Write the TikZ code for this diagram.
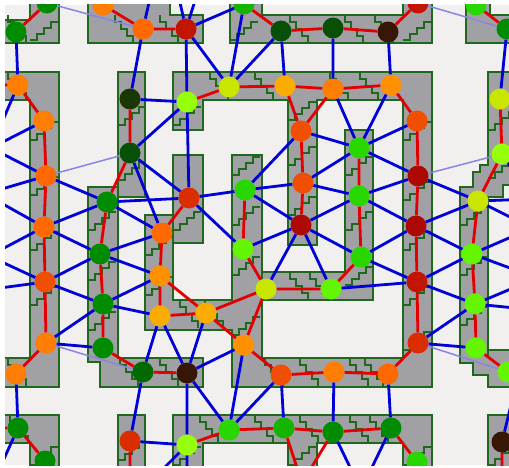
\documentclass[tikz,border=0pt]{standalone}
\usetikzlibrary{calc}

\definecolor{bgcol}{RGB}{241,240,239}
\definecolor{blkgray}{RGB}{161,160,165}
\definecolor{blkgreen}{RGB}{30,105,30}
\definecolor{redcol}{RGB}{228,0,0}
\definecolor{bluecol}{RGB}{0,0,215}
\definecolor{lightcol}{RGB}{135,135,225}
% vertex colours
\definecolor{vbrown}{RGB}{55,22,6}
\definecolor{vdred}{RGB}{172,10,0}
\definecolor{vred}{RGB}{195,20,0}
\definecolor{vredor}{RGB}{218,45,0}
\definecolor{vorred}{RGB}{240,78,0}
\definecolor{vora}{RGB}{255,105,0}
\definecolor{vorb}{RGB}{255,125,0}
\definecolor{vorc}{RGB}{255,145,0}
\definecolor{vgold}{RGB}{250,172,0}
\definecolor{vygreen}{RGB}{200,230,0}
\definecolor{vlimea}{RGB}{150,255,10}
\definecolor{vlimeb}{RGB}{100,245,0}
\definecolor{vgra}{RGB}{40,215,0}
\definecolor{vgrb}{RGB}{20,180,0}
\definecolor{vgrc}{RGB}{0,140,0}
\definecolor{vgrd}{RGB}{0,105,0}
\definecolor{vgre}{RGB}{8,80,8}
\definecolor{vgrf}{RGB}{25,55,0}

% grey strips, as rectangles
\newcommand{\slablist}{%
  \slab(-5,20)(59,43) \slab(30,-5)(59,43)
  \slab(88,-5)(170,43) \slab(88,15)(203,43)
  \slab(230,-5)(262,43) \slab(230,15)(432,43) \slab(403,-5)(432,43)
  \slab(466,-5)(490,43) \slab(466,15)(515,43)
  \slab(-5,72)(59,100) \slab(30,72)(59,387) \slab(-5,358)(59,387)
  \slab(118,72)(145,197) \slab(88,187)(118,362) \slab(100,187)(118,387) \slab(100,358)(203,387)
  \slab(173,72)(432,100) \slab(173,72)(203,130)
  \slab(288,72)(317,245) \slab(403,72)(432,387)
  \slab(232,358)(432,387) \slab(232,155)(262,387)
  \slab(173,155)(203,243)
  \slab(145,215)(173,330) \slab(145,300)(262,330)
  \slab(345,130)(373,300) \slab(262,272)(373,300)
  \slab(488,72)(515,185) \slab(480,165)(515,185)
  \slab(460,187)(488,363) \slab(473,172)(503,197) \slab(473,355)(490,375) \slab(488,350)(515,387)
  \slab(-5,415)(59,443) \slab(30,415)(59,475)
  \slab(118,415)(145,475)
  \slab(173,415)(432,443) \slab(173,415)(203,475) \slab(288,415)(317,475) \slab(403,415)(432,475)
  \slab(488,415)(515,475)
}
\def\slabouter(#1,#2)(#3,#4){\filldraw[block] (#1,#2) rectangle (#3,#4);}
\def\slabinner(#1,#2)(#3,#4){\fill[blockin] (#1+1,#2+1) rectangle (#3-1,#4-1);}

\begin{document}
\begin{tikzpicture}[x=1pt, y=-1pt,
  vtx/.style={circle, inner sep=0pt, minimum size=21pt},
  block/.style={fill=blkgray, draw=blkgreen, line width=1.5pt},
  blockin/.style={fill=blkgray},
  stairln/.style={draw=blkgreen, line width=1.2pt},
  redl/.style={draw=redcol, line width=2.8pt},
  bluel/.style={draw=bluecol, line width=2.8pt},
  lightl/.style={draw=lightcol, line width=1.5pt},
  pics/stairs/.style={code={
    \draw[stairln] (0,0) -- (7,0) -- (7,-6) -- (14,-6) -- (14,-12) -- (21,-12) -- (21,-18) -- (28,-18);}},
]

\useasboundingbox (0,0) rectangle (509,468);
\fill[white] (0,0) rectangle (509,468);

\begin{scope}
\clip (5,5) rectangle (509,465);
\fill[bgcol] (5,5) rectangle (509,465);

% === STRIPS ===
\let\slab\slabouter \slablist
\let\slab\slabinner \slablist

% steps in the vertical strips
\pic at (30,40) {stairs}; \pic at (30,140) {stairs}; \pic at (30,195) {stairs}; \pic at (30,250) {stairs}; \pic at (30,305) {stairs};
\pic at (118,125) {stairs}; \pic at (118,180) {stairs};
\pic at (88,230) {stairs}; \pic at (88,280) {stairs}; \pic at (88,330) {stairs};
\pic at (145,255) {stairs}; \pic at (145,295) {stairs};
\pic at (173,125) {stairs}; \pic at (173,230) {stairs};
\pic at (230,40) {stairs}; \pic at (232,175) {stairs}; \pic at (232,225) {stairs}; \pic at (232,275) {stairs}; \pic at (232,335) {stairs};
\pic at (288,120) {stairs}; \pic at (288,165) {stairs}; \pic at (288,215) {stairs};
\pic at (345,175) {stairs}; \pic at (345,230) {stairs}; \pic at (345,285) {stairs};
\pic at (403,40) {stairs}; \pic at (403,140) {stairs}; \pic at (403,200) {stairs}; \pic at (403,250) {stairs}; \pic at (403,305) {stairs}; \pic at (403,350) {stairs};
\pic at (460,225) {stairs}; \pic at (460,275) {stairs}; \pic at (460,325) {stairs};
\pic at (488,130) {stairs}; \pic at (488,178) {stairs};
\pic at (30,465) {stairs}; \pic at (118,460) {stairs}; \pic at (173,465) {stairs}; \pic at (288,465) {stairs}; \pic at (403,465) {stairs}; \pic at (488,465) {stairs};

% steps in the horizontal strips
\pic[rotate=-90] at (8,15) {stairs}; \pic[rotate=-90] at (115,15) {stairs}; \pic[rotate=-90] at (160,15) {stairs};
\pic[rotate=-90] at (290,15) {stairs}; \pic[rotate=-90] at (345,15) {stairs}; \pic[rotate=-90] at (375,15) {stairs};
\pic[rotate=-90] at (8,72) {stairs}; \pic[rotate=-90] at (210,72) {stairs}; \pic[rotate=-90] at (255,72) {stairs};
\pic[rotate=-90] at (330,72) {stairs}; \pic[rotate=-90] at (360,72) {stairs};
\pic[rotate=-90] at (290,272) {stairs}; \pic[rotate=-90] at (310,272) {stairs};
\pic[rotate=-90] at (180,300) {stairs}; \pic[rotate=-90] at (205,300) {stairs};
\pic[rotate=-90] at (8,358) {stairs}; \pic[rotate=-90] at (120,358) {stairs}; \pic[rotate=-90] at (160,358) {stairs};
\pic[rotate=-90] at (265,358) {stairs}; \pic[rotate=-90] at (300,358) {stairs}; \pic[rotate=-90] at (350,358) {stairs}; \pic[rotate=-90] at (365,358) {stairs};
\pic[rotate=-90] at (10,415) {stairs}; \pic[rotate=-90] at (200,415) {stairs}; \pic[rotate=-90] at (255,415) {stairs};
\pic[rotate=-90] at (300,415) {stairs}; \pic[rotate=-90] at (350,415) {stairs}; \pic[rotate=-90] at (370,415) {stairs};

% === VERTICES ===
\node[vtx, fill=vgrc] (v1) at (16,32) {};
\node[vtx, fill=vgrc] (v2) at (47,3) {};
\node[vtx, fill=vorb] (v3) at (103,5) {};
\node[vtx, fill=vora] (v4) at (143,29) {};
\node[vtx, fill=vred] (v5) at (186,29) {};
\node[vtx, fill=vgrb] (v6) at (244,4) {};
\node[vtx, fill=vgre] (v7) at (281,31) {};
\node[vtx, fill=vgre] (v8) at (333,28) {};
\node[vtx, fill=vbrown] (v9) at (388,32) {};
\node[vtx, fill=vred] (v10) at (418,3) {};
\node[vtx, fill=vgra] (v11) at (476,5) {};
\node[vtx, fill=vgrc] (v12) at (507,29) {};
\node[vtx, fill=vorb] (v13) at (18,85) {};
\node[vtx, fill=vorb] (v14) at (44,121) {};
\node[vtx, fill=vgrf] (v15) at (130,99) {};
\node[vtx, fill=vgre] (v16) at (130,153) {};
\node[vtx, fill=vlimea] (v17) at (187,102) {};
\node[vtx, fill=vygreen] (v18) at (229,87) {};
\node[vtx, fill=vgold] (v19) at (285,86) {};
\node[vtx, fill=vorb] (v20) at (333,89) {};
\node[vtx, fill=vorc] (v21) at (391,85) {};
\node[vtx, fill=vorred] (v22) at (301,131) {};
\node[vtx, fill=vorred] (v23) at (417,121) {};
\node[vtx, fill=vygreen] (v24) at (500,99) {};
\node[vtx, fill=vlimea] (v25) at (502,154) {};
\node[vtx, fill=vgra] (v26) at (359,148) {};
\node[vtx, fill=vora] (v27) at (46,176) {};
\node[vtx, fill=vgrc] (v28) at (107,202) {};
\node[vtx, fill=vora] (v29) at (44,227) {};
\node[vtx, fill=vgrc] (v30) at (100,254) {};
\node[vtx, fill=vorred] (v31) at (45,282) {};
\node[vtx, fill=vgrc] (v32) at (103,304) {};
\node[vtx, fill=vora] (v33) at (162,233) {};
\node[vtx, fill=vorc] (v34) at (160,276) {};
\node[vtx, fill=vgold] (v35) at (160,316) {};
\node[vtx, fill=vredor] (v36) at (189,198) {};
\node[vtx, fill=vgra] (v37) at (245,190) {};
\node[vtx, fill=vorred] (v38) at (303,183) {};
\node[vtx, fill=vdred] (v39) at (301,225) {};
\node[vtx, fill=vlimeb] (v40) at (243,249) {};
\node[vtx, fill=vygreen] (v41) at (266,289) {};
\node[vtx, fill=vlimeb] (v42) at (331,289) {};
\node[vtx, fill=vgold] (v43) at (206,313) {};
\node[vtx, fill=vgra] (v44) at (359,196) {};
\node[vtx, fill=vgra] (v45) at (361,257) {};
\node[vtx, fill=vdred] (v46) at (418,176) {};
\node[vtx, fill=vdred] (v47) at (416,226) {};
\node[vtx, fill=vred] (v48) at (417,282) {};
\node[vtx, fill=vygreen] (v49) at (478,201) {};
\node[vtx, fill=vlimeb] (v50) at (472,254) {};
\node[vtx, fill=vlimeb] (v51) at (475,304) {};
\node[vtx, fill=vorb] (v53) at (46,343) {};
\node[vtx, fill=vgrc] (v54) at (103,348) {};
\node[vtx, fill=vorb] (v55) at (16,374) {};
\node[vtx, fill=vgrd] (v56) at (143,372) {};
\node[vtx, fill=vgrc] (v57) at (18,428) {};
\node[vtx, fill=vgrc] (v58) at (45,461) {};
\node[vtx, fill=vredor] (v59) at (130,441) {};
\node[vtx, fill=vorc] (v60) at (244,345) {};
\node[vtx, fill=vbrown] (v61) at (187,373) {};
\node[vtx, fill=vorred] (v62) at (281,375) {};
\node[vtx, fill=vorb] (v63) at (334,372) {};
\node[vtx, fill=vgra] (v64) at (229,430) {};
\node[vtx, fill=vgrb] (v65) at (284,428) {};
\node[vtx, fill=vgrc] (v66) at (333,432) {};
\node[vtx, fill=vlimea] (v67) at (187,445) {};
\node[vtx, fill=vredor] (v68) at (418,343) {};
\node[vtx, fill=vlimeb] (v69) at (476,348) {};
\node[vtx, fill=vora] (v70) at (388,374) {};
\node[vtx, fill=vlimeb] (v71) at (508,372) {};
\node[vtx, fill=vgrc] (v72) at (391,428) {};
\node[vtx, fill=vgra] (v73) at (417,462) {};
\node[vtx, fill=vbrown] (v74) at (502,442) {};

% ends outside the frame
\coordinate (t1) at (153,-15);
\coordinate (t2) at (176,-15);
\coordinate (t3) at (200,-15);
\coordinate (l0) at (-9,148);
\coordinate (l1) at (-15,194);
\coordinate (l2) at (-11,256);
\coordinate (l3) at (-15,290);
\coordinate (l4) at (-10,85);
\coordinate (l5) at (-10,428);
\coordinate (l6) at (-2,472);
\coordinate (r0) at (532,199);
\coordinate (r1) at (532,228);
\coordinate (r2) at (537,278);
\coordinate (r3) at (535,310);
\coordinate (r4) at (522,360);
\coordinate (b0) at (302,483);
\coordinate (b1) at (361,490);
\coordinate (b2) at (187,490);
\coordinate (b3) at (150,482);
\coordinate (b4) at (130,490);
\coordinate (b5) at (502,490);

% === LINKS ===
\draw[lightl] (v2) -- (v4) (v10) -- (v12) (v27) -- (v16) (v46) -- (v25) (v53) -- (v56) (v68) -- (v71);

\draw[redl] (v1) -- (v2) (v3) -- (v4) (v4) -- (v5) (v6) -- (v7) (v7) -- (v8) (v8) -- (v9) (v9) -- (v10) (v11) -- (v12)
  (l4) -- (v13) (v13) -- (v14) (v14) -- (v27) (v27) -- (v29) (v29) -- (v31) (v31) -- (v53) (v53) -- (v55)
  (v15) -- (v16) (v16) -- (v28) (v28) -- (v30) (v30) -- (v32) (v32) -- (v54) (v54) -- (v56) (v56) -- (v61)
  (v17) -- (v18) (v18) -- (v19) (v19) -- (v20) (v19) -- (v22) (v20) -- (v22) (v20) -- (v21) (v21) -- (v23)
  (v23) -- (v46) (v46) -- (v47) (v47) -- (v48) (v48) -- (v68) (v68) -- (v70) (v70) -- (v63) (v63) -- (v62)
  (v62) -- (v60) (v60) -- (v41) (v60) -- (v43) (v22) -- (v38) (v38) -- (v39)
  (v24) -- (v25) (v25) -- (v49) (v49) -- (v50) (v50) -- (v51) (v51) -- (v69) (v69) -- (v71)
  (v33) -- (v36) (v33) -- (v34) (v34) -- (v35) (v34) -- (v43) (v35) -- (v43) (v43) -- (v41) (v41) -- (v40)
  (v40) -- (v37) (v41) -- (v42) (v42) -- (v45) (v45) -- (v44) (v44) -- (v26)
  (v57) -- (v58) (l5) -- (v57) (v59) -- (b4) (v74) -- (b5)
  (v67) -- (v64) (v64) -- (v65) (v65) -- (v66) (v66) -- (v72) (v72) -- (v73) (v65) -- (b0) (v66) -- (b0);

\draw[bluel] (v1) -- (v13) (v4) -- (v15) (v4) -- (t1) (v5) -- (t2) (v5) -- (t3) (v5) -- (v6) (v5) -- (v18)
  (v5) -- (v17) (v6) -- (v18) (v7) -- (v18) (v7) -- (v19) (v8) -- (v20) (v9) -- (v21) (v12) -- (v24)
  (v13) -- (l0) (v14) -- (l0) (v27) -- (l0) (v27) -- (l1) (v29) -- (l1) (v29) -- (l2) (v31) -- (l2) (v31) -- (l3)
  (v15) -- (v17) (v16) -- (v17) (v16) -- (v33) (v16) -- (v36) (v17) -- (v36)
  (v20) -- (v26) (v21) -- (v26) (v22) -- (v26) (v22) -- (v37) (v23) -- (v26)
  (v27) -- (v28) (v28) -- (v29) (v29) -- (v30) (v30) -- (v31) (v31) -- (v32) (v28) -- (v33) (v30) -- (v33)
  (v30) -- (v34) (v32) -- (v34) (v32) -- (v35) (v28) -- (v36)
  (v36) -- (v37) (v36) -- (v40) (v37) -- (v38) (v37) -- (v39) (v38) -- (v26) (v38) -- (v44) (v39) -- (v40)
  (v39) -- (v41) (v39) -- (v42) (v39) -- (v44) (v39) -- (v45)
  (v26) -- (v46) (v44) -- (v46) (v44) -- (v47) (v45) -- (v47) (v45) -- (v48) (v42) -- (v48)
  (v46) -- (v49) (v47) -- (v49) (v47) -- (v50) (v48) -- (v50) (v48) -- (v51) (v51) -- (v68) (v68) -- (v69)
  (v49) -- (r0) (v25) -- (r0) (v49) -- (r1) (v50) -- (r1) (v50) -- (r2) (v51) -- (r2) (v51) -- (r3)
  (v53) -- (v32) (v53) -- (v54) (v35) -- (v56) (v56) -- (v59) (v55) -- (v57) (v57) -- (l6) (v59) -- (v67)
  (v43) -- (v61) (v35) -- (v61) (v60) -- (v61) (v60) -- (v64) (v61) -- (v64) (v61) -- (v67) (v62) -- (v64)
  (v62) -- (v65) (v63) -- (v66) (v70) -- (v72)
  (v66) -- (b1) (v72) -- (b1) (v67) -- (b2) (v67) -- (b3) (v74) -- (r4);
\end{scope}
\end{tikzpicture}
\end{document}
